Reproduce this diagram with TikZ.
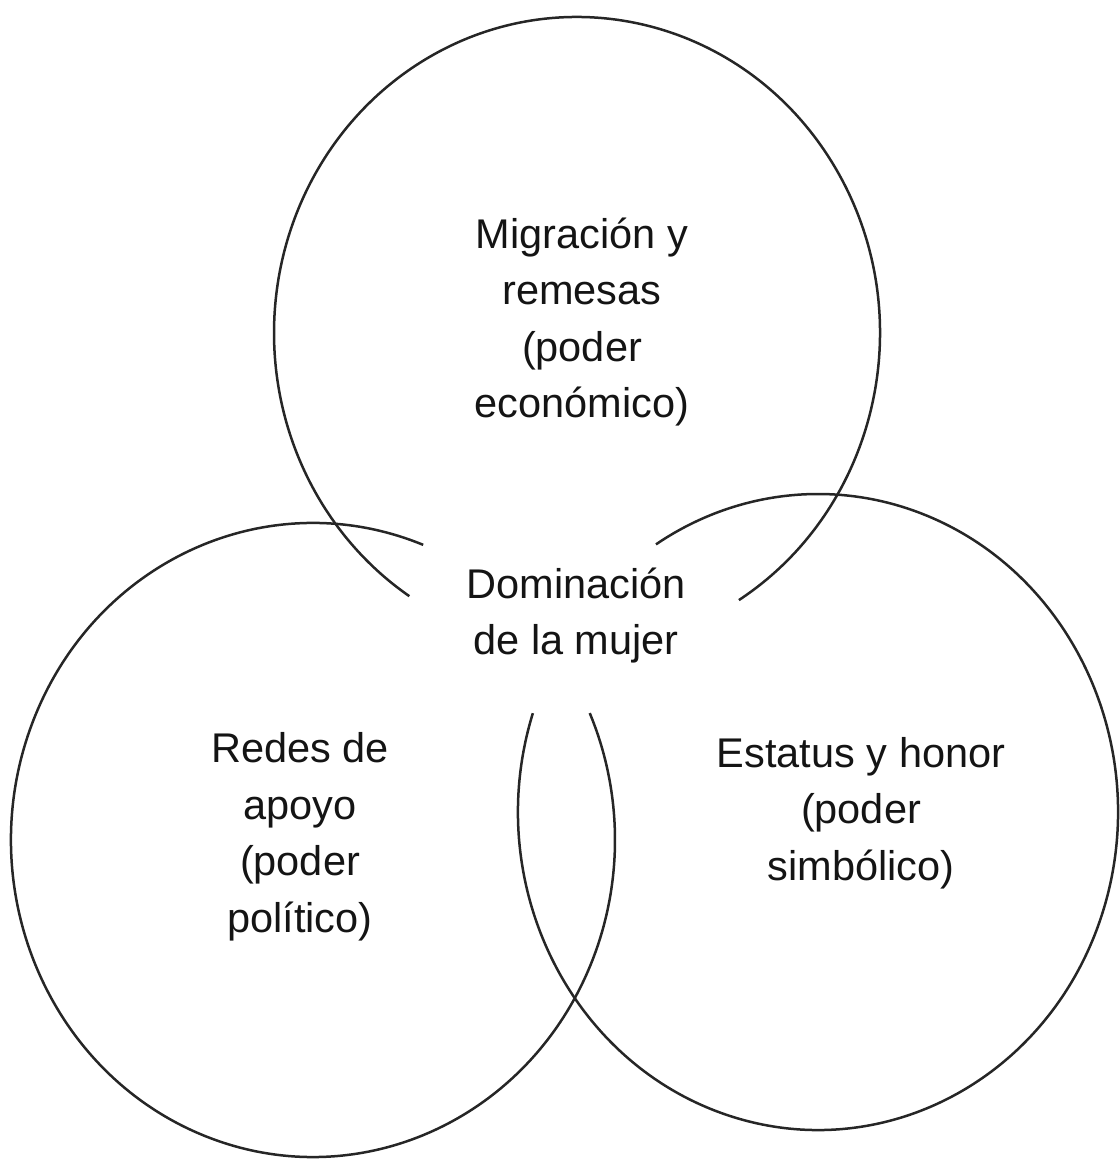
\documentclass[tikz,border=0pt]{standalone}
\usepackage{fontspec}
\setmainfont{Liberation Sans}
\usepackage{tikz}

\begin{document}
\begin{tikzpicture}[
  x=1pt,
  y=1pt,
  ring/.style={
    draw=black!85,
    line width=2.5pt,
  },
  label text/.style={
    align=center,
    inner sep=0pt,
    text=black!92,
    font=\fontsize{41.5}{56.5}\selectfont,
  }
]
\useasboundingbox (0,0) rectangle (1119,1159);
\coordinate (migr) at (577,826);
\coordinate (redes) at (313,319);
\coordinate (estatus) at (818,347);
% each ring is left open where the middle text sits
\foreach \c/\rx/\ry/\from/\to in {migr/303/316/-57.7/236.4,redes/302/317/68.6/383.6,estatus/300/318/161.9/482.7}
{
  \draw[ring] ([shift={(\from:\rx pt and \ry pt)}]\c)
    arc[start angle=\from, end angle=\to, x radius=\rx pt, y radius=\ry pt];
}
\node[label text] (migrText) at (582,837) {Migración y\\remesas\\(poder\\económico)};
\node[label text] (redesText) at (300,322) {Redes de\\apoyo\\(poder\\político)};
\node[label text] (estatusText) at (861,346) {Estatus y honor\\(poder\\simbólico)};
\node[label text] (dominText) at (576,543.5) {Dominación\\de la mujer};
\end{tikzpicture}
\end{document}
